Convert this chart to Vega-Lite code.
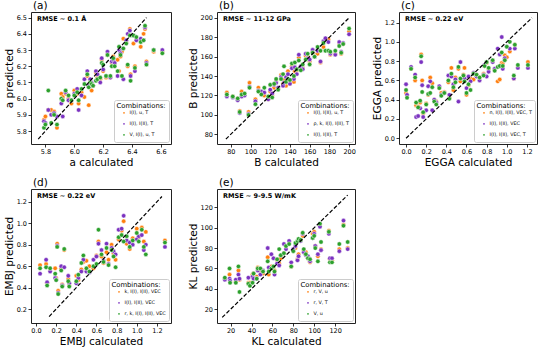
{
"$schema": "https://vega.github.io/schema/vega-lite/v6.json",
"padding": {"left": 3, "top": 0, "right": 2, "bottom": 1},
"config": {
  "font": "DejaVu Sans",
  "view": {"stroke": "#222222", "strokeWidth": 1},
  "axis": {"grid": false, "domain": false, "tickSize": 3, "tickColor": "#000", "tickWidth": 0.8, "labelFontSize": 6.5, "labelColor": "#000", "labelPadding": 1.5, "labelOverlap": false, "labelFlush": false, "titleFontSize": 10.5, "titleFontWeight": "normal", "titleColor": "#000", "titlePadding": 2},
  "legend": {"orient": "bottom-right", "offset": 2, "fillColor": "white", "strokeColor": "#cccccc", "padding": 2.5, "cornerRadius": 2, "titleFontSize": 6.8, "titleFontWeight": "normal", "titleColor": "#000", "titlePadding": 1, "labelFontSize": 4.8, "labelColor": "#000", "symbolSize": 10, "symbolType": "circle", "symbolOffset": 5, "rowPadding": 0, "labelOffset": 3},
  "title": {"anchor": "start", "frame": "group", "fontSize": 10.5, "fontWeight": "normal", "color": "#000", "offset": 1, "dx": 2}
},
"resolve": {"scale": {"color": "independent"}, "legend": {"color": "independent"}},
"columns": 3,
"spacing": {"column": 15, "row": 9},
"datasets": {
"a": [
{"s":"o","x":5.79,"y":5.87},{"s":"o","x":5.80,"y":5.89},{"s":"o","x":5.82,"y":5.93},{"s":"o","x":5.84,"y":5.93},{"s":"o","x":5.86,"y":5.92},{"s":"o","x":5.88,"y":5.82},{"s":"o","x":5.91,"y":6.03},{"s":"o","x":5.92,"y":6.01},{"s":"o","x":5.94,"y":6.03},{"s":"o","x":5.96,"y":6.00},{"s":"o","x":5.98,"y":5.97},{"s":"o","x":6.00,"y":6.05},{"s":"o","x":6.02,"y":6.03},{"s":"o","x":6.03,"y":5.97},{"s":"o","x":6.05,"y":6.04},{"s":"o","x":6.07,"y":6.01},{"s":"o","x":6.09,"y":6.14},{"s":"o","x":6.10,"y":5.96},{"s":"o","x":6.11,"y":6.11},{"s":"o","x":6.12,"y":6.05},{"s":"o","x":6.13,"y":6.08},{"s":"o","x":6.15,"y":6.16},{"s":"o","x":6.16,"y":6.13},{"s":"o","x":6.18,"y":6.12},{"s":"o","x":6.19,"y":6.24},{"s":"o","x":6.20,"y":6.17},{"s":"o","x":6.22,"y":6.13},{"s":"o","x":6.23,"y":6.27},{"s":"o","x":6.25,"y":6.13},{"s":"o","x":6.26,"y":6.22},{"s":"o","x":6.27,"y":6.26},{"s":"o","x":6.28,"y":6.23},{"s":"o","x":6.30,"y":6.24},{"s":"o","x":6.31,"y":6.17},{"s":"o","x":6.32,"y":6.26},{"s":"o","x":6.33,"y":6.29},{"s":"o","x":6.34,"y":6.37},{"s":"o","x":6.36,"y":6.35},{"s":"o","x":6.37,"y":6.20},{"s":"o","x":6.385,"y":6.43},{"s":"o","x":6.39,"y":6.15},{"s":"o","x":6.41,"y":6.34},{"s":"o","x":6.42,"y":6.20},{"s":"o","x":6.43,"y":6.36},{"s":"o","x":6.46,"y":6.32},{"s":"o","x":6.48,"y":6.40},{"s":"o","x":6.49,"y":6.43},{"s":"o","x":6.50,"y":6.23},{"s":"o","x":6.55,"y":6.29},{"s":"o","x":6.61,"y":6.29},
{"s":"p","x":5.79,"y":5.86},{"s":"p","x":5.80,"y":5.85},{"s":"p","x":5.82,"y":5.93},{"s":"p","x":5.84,"y":5.90},{"s":"p","x":5.86,"y":5.91},{"s":"p","x":5.88,"y":5.89},{"s":"p","x":5.91,"y":5.97},{"s":"p","x":5.92,"y":5.89},{"s":"p","x":5.94,"y":6.04},{"s":"p","x":5.96,"y":5.99},{"s":"p","x":5.98,"y":5.99},{"s":"p","x":6.00,"y":6.03},{"s":"p","x":6.02,"y":6.06},{"s":"p","x":6.03,"y":5.93},{"s":"p","x":6.05,"y":6.02},{"s":"p","x":6.07,"y":6.12},{"s":"p","x":6.09,"y":6.17},{"s":"p","x":6.10,"y":6.08},{"s":"p","x":6.11,"y":6.12},{"s":"p","x":6.12,"y":6.10},{"s":"p","x":6.13,"y":6.08},{"s":"p","x":6.15,"y":6.17},{"s":"p","x":6.16,"y":6.15},{"s":"p","x":6.18,"y":6.10},{"s":"p","x":6.19,"y":6.25},{"s":"p","x":6.20,"y":6.18},{"s":"p","x":6.22,"y":6.14},{"s":"p","x":6.23,"y":6.29},{"s":"p","x":6.25,"y":6.13},{"s":"p","x":6.26,"y":6.23},{"s":"p","x":6.27,"y":6.24},{"s":"p","x":6.28,"y":6.22},{"s":"p","x":6.30,"y":6.14},{"s":"p","x":6.31,"y":6.30},{"s":"p","x":6.32,"y":6.28},{"s":"p","x":6.33,"y":6.31},{"s":"p","x":6.34,"y":6.12},{"s":"p","x":6.36,"y":6.36},{"s":"p","x":6.37,"y":6.40},{"s":"p","x":6.385,"y":6.42},{"s":"p","x":6.39,"y":6.14},{"s":"p","x":6.41,"y":6.39},{"s":"p","x":6.42,"y":6.17},{"s":"p","x":6.43,"y":6.36},{"s":"p","x":6.46,"y":6.37},{"s":"p","x":6.48,"y":6.36},{"s":"p","x":6.49,"y":6.44},{"s":"p","x":6.50,"y":6.22},{"s":"p","x":6.55,"y":6.30},{"s":"p","x":6.61,"y":6.30},
{"s":"g","x":5.79,"y":5.82},{"s":"g","x":5.80,"y":5.84},{"s":"g","x":5.82,"y":6.05},{"s":"g","x":5.84,"y":5.85},{"s":"g","x":5.86,"y":5.90},{"s":"g","x":5.88,"y":5.84},{"s":"g","x":5.91,"y":6.00},{"s":"g","x":5.92,"y":5.99},{"s":"g","x":5.94,"y":6.05},{"s":"g","x":5.96,"y":6.02},{"s":"g","x":5.98,"y":5.99},{"s":"g","x":6.00,"y":6.02},{"s":"g","x":6.02,"y":6.04},{"s":"g","x":6.03,"y":5.99},{"s":"g","x":6.05,"y":6.06},{"s":"g","x":6.07,"y":6.09},{"s":"g","x":6.09,"y":6.15},{"s":"g","x":6.10,"y":6.07},{"s":"g","x":6.11,"y":6.10},{"s":"g","x":6.12,"y":6.09},{"s":"g","x":6.13,"y":6.08},{"s":"g","x":6.15,"y":6.11},{"s":"g","x":6.16,"y":6.12},{"s":"g","x":6.18,"y":6.13},{"s":"g","x":6.19,"y":6.22},{"s":"g","x":6.20,"y":6.21},{"s":"g","x":6.22,"y":6.14},{"s":"g","x":6.23,"y":6.27},{"s":"g","x":6.25,"y":6.14},{"s":"g","x":6.26,"y":6.20},{"s":"g","x":6.27,"y":6.25},{"s":"g","x":6.28,"y":6.20},{"s":"g","x":6.30,"y":6.17},{"s":"g","x":6.31,"y":6.32},{"s":"g","x":6.32,"y":6.27},{"s":"g","x":6.33,"y":6.14},{"s":"g","x":6.34,"y":6.31},{"s":"g","x":6.36,"y":6.34},{"s":"g","x":6.37,"y":6.21},{"s":"g","x":6.385,"y":6.39},{"s":"g","x":6.39,"y":6.11},{"s":"g","x":6.41,"y":6.39},{"s":"g","x":6.42,"y":6.19},{"s":"g","x":6.43,"y":6.38},{"s":"g","x":6.46,"y":6.35},{"s":"g","x":6.48,"y":6.36},{"s":"g","x":6.49,"y":6.45},{"s":"g","x":6.50,"y":6.21},{"s":"g","x":6.55,"y":6.30},{"s":"g","x":6.61,"y":6.28}
],
"b": [
{"s":"o","x":76,"y":123},{"s":"o","x":82,"y":119},{"s":"o","x":87,"y":117},{"s":"o","x":89,"y":104},{"s":"o","x":91,"y":124},{"s":"o","x":94,"y":121},{"s":"o","x":98,"y":103},{"s":"o","x":99,"y":133},{"s":"o","x":105,"y":116},{"s":"o","x":108,"y":128},{"s":"o","x":111,"y":122},{"s":"o","x":114,"y":120},{"s":"o","x":118,"y":116},{"s":"o","x":120,"y":124},{"s":"o","x":122,"y":120},{"s":"o","x":124,"y":128},{"s":"o","x":126,"y":135},{"s":"o","x":128,"y":127},{"s":"o","x":131,"y":141},{"s":"o","x":133,"y":132},{"s":"o","x":134,"y":136},{"s":"o","x":136,"y":130},{"s":"o","x":138,"y":145},{"s":"o","x":140,"y":132},{"s":"o","x":142,"y":150},{"s":"o","x":144,"y":134},{"s":"o","x":145,"y":145},{"s":"o","x":147,"y":146},{"s":"o","x":149,"y":159},{"s":"o","x":151,"y":149},{"s":"o","x":153,"y":148},{"s":"o","x":156,"y":161},{"s":"o","x":158,"y":160},{"s":"o","x":160,"y":155},{"s":"o","x":163,"y":165},{"s":"o","x":165,"y":162},{"s":"o","x":168,"y":163},{"s":"o","x":171,"y":154},{"s":"o","x":174,"y":170},{"s":"o","x":176,"y":178},{"s":"o","x":179,"y":178},{"s":"o","x":181,"y":162},{"s":"o","x":186,"y":163},{"s":"o","x":190,"y":173},{"s":"o","x":192,"y":163},{"s":"o","x":194,"y":173},{"s":"o","x":200,"y":186},
{"s":"p","x":76,"y":119},{"s":"p","x":82,"y":118},{"s":"p","x":87,"y":115},{"s":"p","x":89,"y":102},{"s":"p","x":91,"y":119},{"s":"p","x":94,"y":120},{"s":"p","x":98,"y":101},{"s":"p","x":99,"y":129},{"s":"p","x":105,"y":114},{"s":"p","x":108,"y":125},{"s":"p","x":111,"y":124},{"s":"p","x":114,"y":123},{"s":"p","x":118,"y":116},{"s":"p","x":120,"y":126},{"s":"p","x":122,"y":122},{"s":"p","x":124,"y":131},{"s":"p","x":126,"y":133},{"s":"p","x":128,"y":128},{"s":"p","x":131,"y":139},{"s":"p","x":133,"y":130},{"s":"p","x":134,"y":133},{"s":"p","x":136,"y":139},{"s":"p","x":138,"y":142},{"s":"p","x":140,"y":132},{"s":"p","x":142,"y":148},{"s":"p","x":144,"y":137},{"s":"p","x":145,"y":149},{"s":"p","x":147,"y":142},{"s":"p","x":149,"y":162},{"s":"p","x":151,"y":150},{"s":"p","x":153,"y":147},{"s":"p","x":156,"y":163},{"s":"p","x":158,"y":158},{"s":"p","x":160,"y":157},{"s":"p","x":163,"y":167},{"s":"p","x":165,"y":160},{"s":"p","x":168,"y":166},{"s":"p","x":171,"y":155},{"s":"p","x":174,"y":176},{"s":"p","x":176,"y":179},{"s":"p","x":179,"y":175},{"s":"p","x":181,"y":163},{"s":"p","x":186,"y":162},{"s":"p","x":190,"y":175},{"s":"p","x":192,"y":165},{"s":"p","x":194,"y":174},{"s":"p","x":200,"y":183},
{"s":"g","x":76,"y":121},{"s":"g","x":82,"y":119},{"s":"g","x":87,"y":117},{"s":"g","x":89,"y":103},{"s":"g","x":91,"y":121},{"s":"g","x":94,"y":122},{"s":"g","x":98,"y":100},{"s":"g","x":99,"y":128},{"s":"g","x":105,"y":111},{"s":"g","x":108,"y":124},{"s":"g","x":111,"y":121},{"s":"g","x":114,"y":128},{"s":"g","x":118,"y":119},{"s":"g","x":120,"y":131},{"s":"g","x":122,"y":118},{"s":"g","x":124,"y":132},{"s":"g","x":126,"y":137},{"s":"g","x":128,"y":126},{"s":"g","x":131,"y":137},{"s":"g","x":133,"y":142},{"s":"g","x":134,"y":150},{"s":"g","x":136,"y":134},{"s":"g","x":138,"y":137},{"s":"g","x":140,"y":136},{"s":"g","x":142,"y":153},{"s":"g","x":144,"y":140},{"s":"g","x":145,"y":154},{"s":"g","x":147,"y":147},{"s":"g","x":149,"y":156},{"s":"g","x":151,"y":146},{"s":"g","x":153,"y":152},{"s":"g","x":156,"y":157},{"s":"g","x":158,"y":163},{"s":"g","x":160,"y":152},{"s":"g","x":163,"y":164},{"s":"g","x":165,"y":160},{"s":"g","x":168,"y":170},{"s":"g","x":171,"y":166},{"s":"g","x":174,"y":174},{"s":"g","x":176,"y":166},{"s":"g","x":179,"y":166},{"s":"g","x":181,"y":165},{"s":"g","x":186,"y":166},{"s":"g","x":190,"y":171},{"s":"g","x":192,"y":164},{"s":"g","x":194,"y":173},{"s":"g","x":200,"y":189}
],
"c": [
{"s":"o","x":0.00,"y":0.47},{"s":"o","x":0.01,"y":0.44},{"s":"o","x":0.05,"y":0.72},{"s":"o","x":0.09,"y":0.60},{"s":"o","x":0.10,"y":0.34},{"s":"o","x":0.12,"y":0.33},{"s":"o","x":0.14,"y":0.37},{"s":"o","x":0.15,"y":0.87},{"s":"o","x":0.16,"y":0.60},{"s":"o","x":0.17,"y":0.26},{"s":"o","x":0.20,"y":0.36},{"s":"o","x":0.22,"y":0.45},{"s":"o","x":0.24,"y":0.63},{"s":"o","x":0.26,"y":0.57},{"s":"o","x":0.28,"y":0.40},{"s":"o","x":0.30,"y":0.38},{"s":"o","x":0.33,"y":0.52},{"s":"o","x":0.35,"y":0.47},{"s":"o","x":0.38,"y":0.48},{"s":"o","x":0.42,"y":0.58},{"s":"o","x":0.43,"y":0.42},{"s":"o","x":0.45,"y":0.73},{"s":"o","x":0.47,"y":0.50},{"s":"o","x":0.49,"y":0.63},{"s":"o","x":0.52,"y":0.72},{"s":"o","x":0.54,"y":0.59},{"s":"o","x":0.57,"y":0.66},{"s":"o","x":0.58,"y":0.73},{"s":"o","x":0.60,"y":0.45},{"s":"o","x":0.62,"y":0.55},{"s":"o","x":0.64,"y":0.62},{"s":"o","x":0.67,"y":0.61},{"s":"o","x":0.70,"y":0.66},{"s":"o","x":0.73,"y":0.63},{"s":"o","x":0.77,"y":0.67},{"s":"o","x":0.78,"y":0.75},{"s":"o","x":0.80,"y":0.78},{"s":"o","x":0.82,"y":0.72},{"s":"o","x":0.86,"y":0.80},{"s":"o","x":0.88,"y":0.71},{"s":"o","x":0.91,"y":0.59},{"s":"o","x":0.93,"y":0.61},{"s":"o","x":0.95,"y":0.78},{"s":"o","x":0.96,"y":0.77},{"s":"o","x":0.98,"y":0.86},{"s":"o","x":1.00,"y":0.84},{"s":"o","x":1.03,"y":0.90},{"s":"o","x":1.07,"y":0.62},{"s":"o","x":1.08,"y":0.97},{"s":"o","x":1.11,"y":0.74},{"s":"o","x":1.21,"y":0.79},
{"s":"p","x":0.00,"y":0.56},{"s":"p","x":0.01,"y":0.45},{"s":"p","x":0.05,"y":0.74},{"s":"p","x":0.09,"y":0.66},{"s":"p","x":0.10,"y":0.22},{"s":"p","x":0.12,"y":0.23},{"s":"p","x":0.14,"y":0.31},{"s":"p","x":0.15,"y":0.79},{"s":"p","x":0.16,"y":0.55},{"s":"p","x":0.17,"y":0.22},{"s":"p","x":0.20,"y":0.29},{"s":"p","x":0.22,"y":0.54},{"s":"p","x":0.24,"y":0.59},{"s":"p","x":0.26,"y":0.29},{"s":"p","x":0.28,"y":0.40},{"s":"p","x":0.30,"y":0.37},{"s":"p","x":0.33,"y":0.54},{"s":"p","x":0.35,"y":0.45},{"s":"p","x":0.38,"y":0.47},{"s":"p","x":0.42,"y":0.65},{"s":"p","x":0.43,"y":0.45},{"s":"p","x":0.45,"y":0.64},{"s":"p","x":0.47,"y":0.56},{"s":"p","x":0.49,"y":0.61},{"s":"p","x":0.52,"y":0.38},{"s":"p","x":0.54,"y":0.79},{"s":"p","x":0.57,"y":0.62},{"s":"p","x":0.58,"y":0.62},{"s":"p","x":0.60,"y":0.52},{"s":"p","x":0.62,"y":0.64},{"s":"p","x":0.64,"y":0.59},{"s":"p","x":0.67,"y":0.68},{"s":"p","x":0.70,"y":0.64},{"s":"p","x":0.73,"y":0.60},{"s":"p","x":0.77,"y":0.66},{"s":"p","x":0.78,"y":0.76},{"s":"p","x":0.80,"y":0.64},{"s":"p","x":0.82,"y":0.69},{"s":"p","x":0.86,"y":0.79},{"s":"p","x":0.88,"y":0.72},{"s":"p","x":0.91,"y":0.93},{"s":"p","x":0.93,"y":0.87},{"s":"p","x":0.95,"y":1.05},{"s":"p","x":0.96,"y":0.72},{"s":"p","x":0.98,"y":0.83},{"s":"p","x":1.00,"y":0.95},{"s":"p","x":1.03,"y":0.93},{"s":"p","x":1.07,"y":0.62},{"s":"p","x":1.08,"y":0.93},{"s":"p","x":1.11,"y":0.73},{"s":"p","x":1.21,"y":0.73},
{"s":"g","x":0.00,"y":0.50},{"s":"g","x":0.01,"y":0.42},{"s":"g","x":0.05,"y":0.72},{"s":"g","x":0.09,"y":0.63},{"s":"g","x":0.10,"y":0.37},{"s":"g","x":0.12,"y":0.32},{"s":"g","x":0.14,"y":0.39},{"s":"g","x":0.15,"y":0.85},{"s":"g","x":0.16,"y":0.48},{"s":"g","x":0.17,"y":0.27},{"s":"g","x":0.20,"y":0.35},{"s":"g","x":0.22,"y":0.46},{"s":"g","x":0.24,"y":0.47},{"s":"g","x":0.26,"y":0.53},{"s":"g","x":0.28,"y":0.38},{"s":"g","x":0.30,"y":0.35},{"s":"g","x":0.33,"y":0.52},{"s":"g","x":0.35,"y":0.44},{"s":"g","x":0.38,"y":0.47},{"s":"g","x":0.42,"y":0.60},{"s":"g","x":0.43,"y":0.41},{"s":"g","x":0.45,"y":0.67},{"s":"g","x":0.47,"y":0.53},{"s":"g","x":0.49,"y":0.58},{"s":"g","x":0.52,"y":0.74},{"s":"g","x":0.54,"y":0.62},{"s":"g","x":0.57,"y":0.65},{"s":"g","x":0.58,"y":0.59},{"s":"g","x":0.60,"y":0.47},{"s":"g","x":0.62,"y":0.56},{"s":"g","x":0.64,"y":0.50},{"s":"g","x":0.67,"y":0.67},{"s":"g","x":0.70,"y":0.66},{"s":"g","x":0.73,"y":0.63},{"s":"g","x":0.77,"y":0.65},{"s":"g","x":0.78,"y":0.75},{"s":"g","x":0.80,"y":0.79},{"s":"g","x":0.82,"y":0.73},{"s":"g","x":0.86,"y":0.81},{"s":"g","x":0.88,"y":0.70},{"s":"g","x":0.91,"y":0.74},{"s":"g","x":0.93,"y":0.75},{"s":"g","x":0.95,"y":0.89},{"s":"g","x":0.96,"y":0.75},{"s":"g","x":0.98,"y":0.81},{"s":"g","x":1.00,"y":0.95},{"s":"g","x":1.03,"y":1.00},{"s":"g","x":1.07,"y":0.65},{"s":"g","x":1.08,"y":0.97},{"s":"g","x":1.11,"y":0.76},{"s":"g","x":1.21,"y":0.76}
],
"d": [
{"s":"o","x":0.04,"y":0.61},{"s":"o","x":0.10,"y":0.62},{"s":"o","x":0.11,"y":0.44},{"s":"o","x":0.14,"y":0.56},{"s":"o","x":0.19,"y":0.58},{"s":"o","x":0.20,"y":0.49},{"s":"o","x":0.21,"y":0.81},{"s":"o","x":0.22,"y":0.37},{"s":"o","x":0.25,"y":0.58},{"s":"o","x":0.26,"y":0.43},{"s":"o","x":0.28,"y":0.75},{"s":"o","x":0.32,"y":0.48},{"s":"o","x":0.33,"y":0.42},{"s":"o","x":0.40,"y":0.51},{"s":"o","x":0.42,"y":0.47},{"s":"o","x":0.45,"y":0.57},{"s":"o","x":0.47,"y":0.64},{"s":"o","x":0.50,"y":0.65},{"s":"o","x":0.53,"y":0.60},{"s":"o","x":0.57,"y":0.58},{"s":"o","x":0.60,"y":0.70},{"s":"o","x":0.62,"y":0.83},{"s":"o","x":0.65,"y":0.69},{"s":"o","x":0.67,"y":0.63},{"s":"o","x":0.70,"y":0.73},{"s":"o","x":0.72,"y":0.66},{"s":"o","x":0.75,"y":0.80},{"s":"o","x":0.77,"y":0.72},{"s":"o","x":0.79,"y":0.66},{"s":"o","x":0.82,"y":0.85},{"s":"o","x":0.85,"y":0.93},{"s":"o","x":0.87,"y":1.02},{"s":"o","x":0.90,"y":0.81},{"s":"o","x":0.93,"y":0.76},{"s":"o","x":0.96,"y":0.86},{"s":"o","x":1.00,"y":0.95},{"s":"o","x":1.02,"y":0.87},{"s":"o","x":1.05,"y":0.96},{"s":"o","x":1.07,"y":0.83},{"s":"o","x":1.09,"y":0.92},{"s":"o","x":1.28,"y":0.84},
{"s":"p","x":0.04,"y":0.53},{"s":"p","x":0.10,"y":0.66},{"s":"p","x":0.11,"y":0.45},{"s":"p","x":0.14,"y":0.55},{"s":"p","x":0.19,"y":0.49},{"s":"p","x":0.20,"y":0.47},{"s":"p","x":0.21,"y":0.79},{"s":"p","x":0.22,"y":0.35},{"s":"p","x":0.25,"y":0.60},{"s":"p","x":0.26,"y":0.42},{"s":"p","x":0.28,"y":0.59},{"s":"p","x":0.32,"y":0.51},{"s":"p","x":0.33,"y":0.44},{"s":"p","x":0.40,"y":0.44},{"s":"p","x":0.42,"y":0.49},{"s":"p","x":0.45,"y":0.55},{"s":"p","x":0.47,"y":0.66},{"s":"p","x":0.50,"y":0.55},{"s":"p","x":0.53,"y":0.54},{"s":"p","x":0.57,"y":0.66},{"s":"p","x":0.60,"y":0.69},{"s":"p","x":0.62,"y":0.81},{"s":"p","x":0.65,"y":0.75},{"s":"p","x":0.67,"y":0.65},{"s":"p","x":0.70,"y":0.81},{"s":"p","x":0.72,"y":0.62},{"s":"p","x":0.75,"y":0.77},{"s":"p","x":0.77,"y":0.74},{"s":"p","x":0.79,"y":0.71},{"s":"p","x":0.82,"y":0.94},{"s":"p","x":0.85,"y":0.95},{"s":"p","x":0.87,"y":1.07},{"s":"p","x":0.90,"y":0.84},{"s":"p","x":0.93,"y":0.82},{"s":"p","x":0.96,"y":0.80},{"s":"p","x":1.00,"y":0.85},{"s":"p","x":1.02,"y":0.88},{"s":"p","x":1.05,"y":0.89},{"s":"p","x":1.07,"y":0.75},{"s":"p","x":1.09,"y":0.80},{"s":"p","x":1.28,"y":0.78},
{"s":"g","x":0.04,"y":0.58},{"s":"g","x":0.10,"y":0.59},{"s":"g","x":0.11,"y":0.42},{"s":"g","x":0.14,"y":0.58},{"s":"g","x":0.19,"y":0.53},{"s":"g","x":0.20,"y":0.47},{"s":"g","x":0.21,"y":0.78},{"s":"g","x":0.22,"y":0.34},{"s":"g","x":0.25,"y":0.56},{"s":"g","x":0.26,"y":0.41},{"s":"g","x":0.28,"y":0.76},{"s":"g","x":0.32,"y":0.46},{"s":"g","x":0.33,"y":0.41},{"s":"g","x":0.40,"y":0.46},{"s":"g","x":0.42,"y":0.52},{"s":"g","x":0.45,"y":0.63},{"s":"g","x":0.47,"y":0.70},{"s":"g","x":0.50,"y":0.58},{"s":"g","x":0.53,"y":0.55},{"s":"g","x":0.57,"y":0.60},{"s":"g","x":0.60,"y":0.62},{"s":"g","x":0.62,"y":0.94},{"s":"g","x":0.65,"y":0.71},{"s":"g","x":0.67,"y":0.64},{"s":"g","x":0.70,"y":0.77},{"s":"g","x":0.72,"y":0.61},{"s":"g","x":0.75,"y":0.75},{"s":"g","x":0.77,"y":0.69},{"s":"g","x":0.79,"y":0.59},{"s":"g","x":0.82,"y":0.87},{"s":"g","x":0.85,"y":0.89},{"s":"g","x":0.87,"y":0.83},{"s":"g","x":0.90,"y":0.88},{"s":"g","x":0.93,"y":0.78},{"s":"g","x":0.96,"y":0.84},{"s":"g","x":1.00,"y":0.91},{"s":"g","x":1.02,"y":0.83},{"s":"g","x":1.05,"y":0.94},{"s":"g","x":1.07,"y":0.78},{"s":"g","x":1.09,"y":0.71},{"s":"g","x":1.28,"y":0.82}
],
"e": [
{"s":"o","x":14.5,"y":50},{"s":"o","x":19,"y":54},{"s":"o","x":19.5,"y":47},{"s":"o","x":25,"y":47},{"s":"o","x":27.5,"y":58},{"s":"o","x":28.5,"y":49},{"s":"o","x":37,"y":46},{"s":"o","x":38.5,"y":46},{"s":"o","x":41,"y":54},{"s":"o","x":42,"y":55},{"s":"o","x":45,"y":52},{"s":"o","x":46,"y":61},{"s":"o","x":48.5,"y":58},{"s":"o","x":51,"y":55},{"s":"o","x":55.5,"y":71},{"s":"o","x":56.5,"y":54},{"s":"o","x":59,"y":62},{"s":"o","x":61,"y":60},{"s":"o","x":62,"y":58},{"s":"o","x":64.5,"y":68},{"s":"o","x":66.5,"y":65},{"s":"o","x":68,"y":70},{"s":"o","x":71,"y":75},{"s":"o","x":73,"y":82},{"s":"o","x":76,"y":86},{"s":"o","x":78,"y":62},{"s":"o","x":80,"y":78},{"s":"o","x":82,"y":80},{"s":"o","x":84,"y":69},{"s":"o","x":85,"y":74},{"s":"o","x":87,"y":88},{"s":"o","x":89,"y":92},{"s":"o","x":90,"y":78},{"s":"o","x":92,"y":76},{"s":"o","x":94,"y":70},{"s":"o","x":96,"y":66},{"s":"o","x":98.5,"y":94},{"s":"o","x":100,"y":96},{"s":"o","x":101,"y":82},{"s":"o","x":103.5,"y":72},{"s":"o","x":105.5,"y":103},{"s":"o","x":106.5,"y":79},{"s":"o","x":114,"y":97},{"s":"o","x":115,"y":69},{"s":"o","x":117,"y":68},{"s":"o","x":124,"y":79},{"s":"o","x":128,"y":103},{"s":"o","x":132,"y":80},
{"s":"p","x":14.5,"y":49},{"s":"p","x":19,"y":50},{"s":"p","x":19.5,"y":48},{"s":"p","x":25,"y":49},{"s":"p","x":27.5,"y":54},{"s":"p","x":28.5,"y":50},{"s":"p","x":37,"y":51},{"s":"p","x":38.5,"y":44},{"s":"p","x":41,"y":52},{"s":"p","x":42,"y":50},{"s":"p","x":45,"y":50},{"s":"p","x":46,"y":58},{"s":"p","x":48.5,"y":54},{"s":"p","x":51,"y":58},{"s":"p","x":55.5,"y":80},{"s":"p","x":56.5,"y":61},{"s":"p","x":59,"y":74},{"s":"p","x":61,"y":70},{"s":"p","x":62,"y":54},{"s":"p","x":64.5,"y":65},{"s":"p","x":66.5,"y":63},{"s":"p","x":68,"y":73},{"s":"p","x":71,"y":84},{"s":"p","x":73,"y":79},{"s":"p","x":76,"y":87},{"s":"p","x":78,"y":66},{"s":"p","x":80,"y":79},{"s":"p","x":82,"y":82},{"s":"p","x":84,"y":68},{"s":"p","x":85,"y":72},{"s":"p","x":87,"y":87},{"s":"p","x":89,"y":94},{"s":"p","x":90,"y":76},{"s":"p","x":92,"y":73},{"s":"p","x":94,"y":72},{"s":"p","x":96,"y":67},{"s":"p","x":98.5,"y":90},{"s":"p","x":100,"y":94},{"s":"p","x":101,"y":82},{"s":"p","x":103.5,"y":74},{"s":"p","x":105.5,"y":101},{"s":"p","x":106.5,"y":78},{"s":"p","x":114,"y":94},{"s":"p","x":115,"y":70},{"s":"p","x":117,"y":70},{"s":"p","x":124,"y":77},{"s":"p","x":128,"y":107},{"s":"p","x":132,"y":79},
{"s":"g","x":14.5,"y":51},{"s":"g","x":19,"y":60},{"s":"g","x":19.5,"y":46},{"s":"g","x":25,"y":46},{"s":"g","x":27.5,"y":62},{"s":"g","x":28.5,"y":37},{"s":"g","x":37,"y":45},{"s":"g","x":38.5,"y":43},{"s":"g","x":41,"y":46},{"s":"g","x":42,"y":55},{"s":"g","x":45,"y":50},{"s":"g","x":46,"y":60},{"s":"g","x":48.5,"y":60},{"s":"g","x":51,"y":57},{"s":"g","x":55.5,"y":67},{"s":"g","x":56.5,"y":57},{"s":"g","x":59,"y":60},{"s":"g","x":61,"y":62},{"s":"g","x":62,"y":57},{"s":"g","x":64.5,"y":69},{"s":"g","x":66.5,"y":79},{"s":"g","x":68,"y":73},{"s":"g","x":71,"y":75},{"s":"g","x":73,"y":82},{"s":"g","x":76,"y":84},{"s":"g","x":78,"y":62},{"s":"g","x":80,"y":77},{"s":"g","x":82,"y":85},{"s":"g","x":84,"y":87},{"s":"g","x":85,"y":89},{"s":"g","x":87,"y":88},{"s":"g","x":89,"y":95},{"s":"g","x":90,"y":79},{"s":"g","x":92,"y":74},{"s":"g","x":94,"y":70},{"s":"g","x":96,"y":69},{"s":"g","x":98.5,"y":90},{"s":"g","x":100,"y":92},{"s":"g","x":101,"y":80},{"s":"g","x":103.5,"y":67},{"s":"g","x":105.5,"y":104},{"s":"g","x":106.5,"y":86},{"s":"g","x":114,"y":96},{"s":"g","x":115,"y":66},{"s":"g","x":117,"y":66},{"s":"g","x":124,"y":84},{"s":"g","x":128,"y":102},{"s":"g","x":132,"y":86}
]
},
"concat": [
{
  "title": "(a)", "width": 140, "height": 132,
  "layer": [
    {"data": {"name": "a"}, "mark": {"type": "circle", "size": 20, "stroke": "white", "strokeWidth": 0.5, "opacity": 1},
     "encoding": {
       "x": {"field": "x", "type": "quantitative", "scale": {"domain": [5.7, 6.67], "nice": false, "zero": false}, "axis": {"title": "a calculated", "values": [5.8, 6.0, 6.2, 6.4, 6.6], "tickCount": 20, "format": ".1f", "labelOverlap": false}},
       "y": {"field": "y", "type": "quantitative", "scale": {"domain": [5.72, 6.535], "nice": false, "zero": false}, "axis": {"title": "a predicted", "values": [5.8, 5.9, 6.0, 6.1, 6.2, 6.3, 6.4, 6.5], "tickCount": 20, "format": ".1f", "labelOverlap": false}},
       "color": {"field": "s", "type": "nominal", "scale": {"domain": ["o", "p", "g"], "range": ["#ff7f0e", "#7b32c0", "#2ca02c"]}, "legend": {"title": "Combinations:", "labelExpr": "datum.value == 'o' ? 'I(I), u, T' : datum.value == 'p' ? 'I(I), I(II), T' : 'V, I(I), u, T'"}}
     }},
    {"data": {"values": [{"x": 5.75, "y": 5.75}, {"x": 6.5, "y": 6.5}]}, "mark": {"type": "line", "color": "black", "strokeDash": [4, 2], "strokeWidth": 1.2},
     "encoding": {"x": {"field": "x", "type": "quantitative"}, "y": {"field": "y", "type": "quantitative"}}},
    {"data": {"values": [{"t": "RMSE ~ 0.1 Å"}]}, "mark": {"type": "text", "fontSize": 6.5, "fontWeight": "bold", "align": "left", "baseline": "top", "dx": 6, "dy": 4, "color": "#000"},
     "encoding": {"text": {"field": "t"}, "x": {"datum": 5.7, "type": "quantitative"}, "y": {"datum": 6.535, "type": "quantitative"}}}
  ]
},
{
  "title": "(b)", "width": 138, "height": 132,
  "layer": [
    {"data": {"name": "b"}, "mark": {"type": "circle", "size": 20, "stroke": "white", "strokeWidth": 0.5, "opacity": 1},
     "encoding": {
       "x": {"field": "x", "type": "quantitative", "scale": {"domain": [66, 206], "nice": false, "zero": false}, "axis": {"title": "B calculated", "values": [80, 100, 120, 140, 160, 180, 200], "tickCount": 20, "format": "d", "labelOverlap": false}},
       "y": {"field": "y", "type": "quantitative", "scale": {"domain": [70, 206], "nice": false, "zero": false}, "axis": {"title": "B predicted", "values": [80, 100, 120, 140, 160, 180, 200], "tickCount": 20, "format": "d", "labelOverlap": false}},
       "color": {"field": "s", "type": "nominal", "scale": {"domain": ["o", "p", "g"], "range": ["#ff7f0e", "#7b32c0", "#2ca02c"]}, "legend": {"title": "Combinations:", "labelExpr": "datum.value == 'o' ? 'I(I), I(II), u, T' : datum.value == 'p' ? 'ρ, k, I(I), I(II), T' : 'I(I), I(II), T'"}}
     }},
    {"data": {"values": [{"x": 75, "y": 75}, {"x": 200, "y": 200}]}, "mark": {"type": "line", "color": "black", "strokeDash": [4, 2], "strokeWidth": 1.2},
     "encoding": {"x": {"field": "x", "type": "quantitative"}, "y": {"field": "y", "type": "quantitative"}}},
    {"data": {"values": [{"t": "RMSE ~ 11-12 GPa"}]}, "mark": {"type": "text", "fontSize": 6.5, "fontWeight": "bold", "align": "left", "baseline": "top", "dx": 6, "dy": 4, "color": "#000"},
     "encoding": {"text": {"field": "t"}, "x": {"datum": 66, "type": "quantitative"}, "y": {"datum": 206, "type": "quantitative"}}}
  ]
},
{
  "title": "(c)", "width": 138, "height": 132,
  "layer": [
    {"data": {"name": "c"}, "mark": {"type": "circle", "size": 20, "stroke": "white", "strokeWidth": 0.5, "opacity": 1},
     "encoding": {
       "x": {"field": "x", "type": "quantitative", "scale": {"domain": [-0.07, 1.3], "nice": false, "zero": false}, "axis": {"title": "EGGA calculated", "values": [0, 0.2, 0.4, 0.6, 0.8, 1.0, 1.2], "tickCount": 20, "format": ".1f", "labelOverlap": false}},
       "y": {"field": "y", "type": "quantitative", "scale": {"domain": [-0.06, 1.31], "nice": false, "zero": false}, "axis": {"title": "EGGA predicted", "values": [0, 0.2, 0.4, 0.6, 0.8, 1.0, 1.2], "tickCount": 20, "format": ".1f", "labelOverlap": false}},
       "color": {"field": "s", "type": "nominal", "scale": {"domain": ["o", "p", "g"], "range": ["#ff7f0e", "#7b32c0", "#2ca02c"]}, "legend": {"title": "Combinations:", "labelExpr": "datum.value == 'o' ? 'n, I(I), I(II), VEC, T' : datum.value == 'p' ? 'I(I), I(II), VEC' : 'I(I), I(II), VEC, T'"}}
     }},
    {"data": {"values": [{"x": 0, "y": 0}, {"x": 1.25, "y": 1.25}]}, "mark": {"type": "line", "color": "black", "strokeDash": [4, 2], "strokeWidth": 1.2},
     "encoding": {"x": {"field": "x", "type": "quantitative"}, "y": {"field": "y", "type": "quantitative"}}},
    {"data": {"values": [{"t": "RMSE ~ 0.22 eV"}]}, "mark": {"type": "text", "fontSize": 6.5, "fontWeight": "bold", "align": "left", "baseline": "top", "dx": 6, "dy": 4, "color": "#000"},
     "encoding": {"text": {"field": "t"}, "x": {"datum": -0.07, "type": "quantitative"}, "y": {"datum": 1.31, "type": "quantitative"}}}
  ]
},
{
  "title": "(d)", "width": 140, "height": 134,
  "layer": [
    {"data": {"name": "d"}, "mark": {"type": "circle", "size": 20, "stroke": "white", "strokeWidth": 0.5, "opacity": 1},
     "encoding": {
       "x": {"field": "x", "type": "quantitative", "scale": {"domain": [-0.05, 1.34], "nice": false, "zero": false}, "axis": {"title": "EMBJ calculated", "values": [0, 0.2, 0.4, 0.6, 0.8, 1.0, 1.2], "tickCount": 20, "format": ".1f", "labelOverlap": false}},
       "y": {"field": "y", "type": "quantitative", "scale": {"domain": [0.07, 1.32], "nice": false, "zero": false}, "axis": {"title": "EMBJ predicted", "values": [0.2, 0.4, 0.6, 0.8, 1.0, 1.2], "tickCount": 20, "format": ".1f", "labelOverlap": false}},
       "color": {"field": "s", "type": "nominal", "scale": {"domain": ["o", "p", "g"], "range": ["#ff7f0e", "#7b32c0", "#2ca02c"]}, "legend": {"title": "Combinations:", "labelExpr": "datum.value == 'o' ? 'k, I(I), I(II), VEC' : datum.value == 'p' ? 'I(I), I(II), VEC' : 'r, k, I(I), I(II), VEC'"}}
     }},
    {"data": {"values": [{"x": 0.13, "y": 0.13}, {"x": 1.25, "y": 1.25}]}, "mark": {"type": "line", "color": "black", "strokeDash": [4, 2], "strokeWidth": 1.2},
     "encoding": {"x": {"field": "x", "type": "quantitative"}, "y": {"field": "y", "type": "quantitative"}}},
    {"data": {"values": [{"t": "RMSE ~ 0.22 eV"}]}, "mark": {"type": "text", "fontSize": 6.5, "fontWeight": "bold", "align": "left", "baseline": "top", "dx": 6, "dy": 4, "color": "#000"},
     "encoding": {"text": {"field": "t"}, "x": {"datum": -0.05, "type": "quantitative"}, "y": {"datum": 1.32, "type": "quantitative"}}}
  ]
},
{
  "title": "(e)", "width": 138, "height": 134,
  "layer": [
    {"data": {"name": "e"}, "mark": {"type": "circle", "size": 20, "stroke": "white", "strokeWidth": 0.5, "opacity": 1},
     "encoding": {
       "x": {"field": "x", "type": "quantitative", "scale": {"domain": [7, 139], "nice": false, "zero": false}, "axis": {"title": "KL calculated", "values": [20, 40, 60, 80, 100, 120], "tickCount": 20, "format": "d", "labelOverlap": false}},
       "y": {"field": "y", "type": "quantitative", "scale": {"domain": [6.5, 138], "nice": false, "zero": false}, "axis": {"title": "KL predicted", "values": [20, 40, 60, 80, 100, 120], "tickCount": 20, "format": "d", "labelOverlap": false}},
       "color": {"field": "s", "type": "nominal", "scale": {"domain": ["o", "p", "g"], "range": ["#ff7f0e", "#7b32c0", "#2ca02c"]}, "legend": {"title": "Combinations:", "labelExpr": "datum.value == 'o' ? 'r, V, u' : datum.value == 'p' ? 'r, V, T' : 'V, u'"}}
     }},
    {"data": {"values": [{"x": 12, "y": 12}, {"x": 132, "y": 132}]}, "mark": {"type": "line", "color": "black", "strokeDash": [4, 2], "strokeWidth": 1.2},
     "encoding": {"x": {"field": "x", "type": "quantitative"}, "y": {"field": "y", "type": "quantitative"}}},
    {"data": {"values": [{"t": "RMSE ~ 9-9.5 W/mK"}]}, "mark": {"type": "text", "fontSize": 6.5, "fontWeight": "bold", "align": "left", "baseline": "top", "dx": 6, "dy": 4, "color": "#000"},
     "encoding": {"text": {"field": "t"}, "x": {"datum": 7, "type": "quantitative"}, "y": {"datum": 138, "type": "quantitative"}}}
  ]
}
]
}
